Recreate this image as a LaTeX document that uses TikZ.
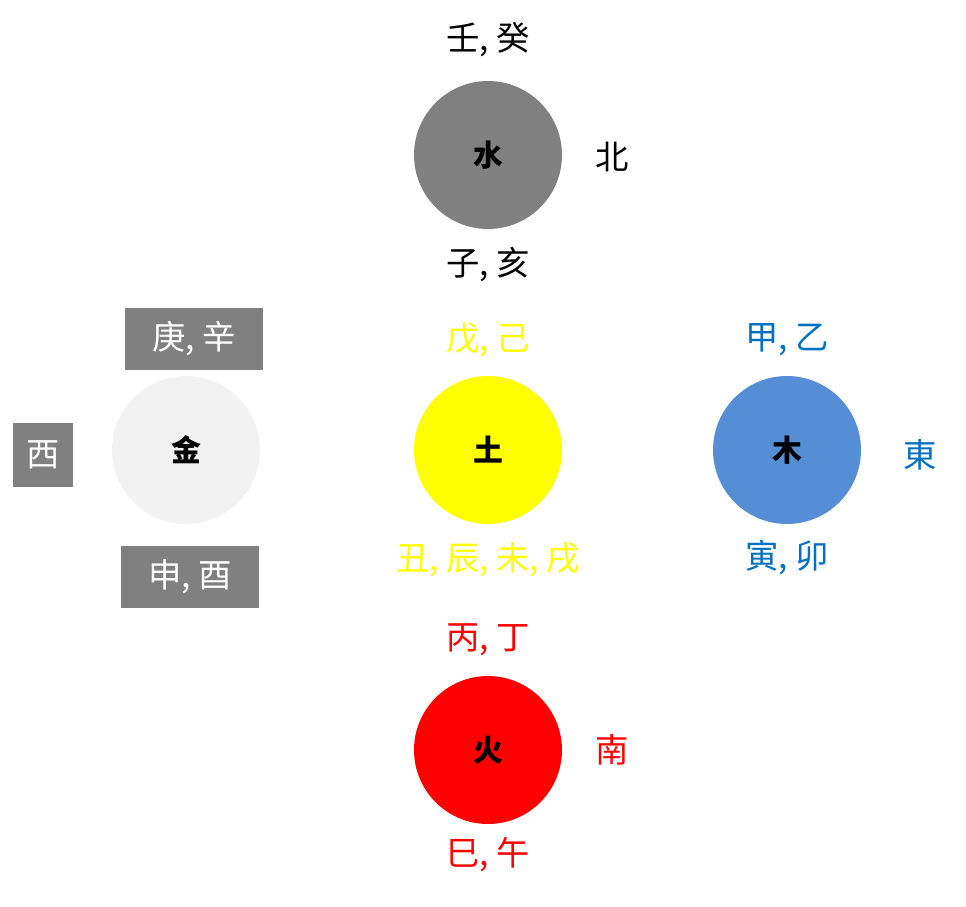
\documentclass[tikz,border=0pt]{standalone}
\usepackage{fontspec}
\setmainfont{Noto Sans CJK SC}
\definecolor{waterGray}{RGB}{128,128,128}
\definecolor{earthYellow}{RGB}{255,255,0}
\definecolor{woodBlue}{RGB}{85,142,213}
\definecolor{woodText}{RGB}{0,112,192}
\definecolor{fireRed}{RGB}{255,0,0}
\definecolor{metalGray}{RGB}{242,242,242}
\tikzset{
  element/.style={circle, minimum size=2.96cm, inner sep=0pt, font=\fontsize{17}{20}\selectfont\bfseries},
  stem/.style={font=\fontsize{19}{22}\selectfont, inner sep=0pt},
  tag/.style={stem, fill=waterGray, text=white, minimum height=1.24cm}
}
\begin{document}
\begin{tikzpicture}[x=0.02cm, y=-0.02cm]
            \useasboundingbox (0,0) rectangle (966,906);

            % Elementos
            \node[element, fill=waterGray] (water) at (488,155) {水};
            \node[element, fill=earthYellow] (earth) at (488,450) {土};
            \node[element, fill=woodBlue] (wood) at (787,450) {木};
            \node[element, fill=metalGray] (metal) at (186,450) {金};
            \node[element, fill=fireRed] (fire) at (488,750) {火};

            % Agua
            \node[stem] (waterTop) at (488,40) {壬, 癸};
            \node[stem] (waterDir) at (612,157) {北};
            \node[stem] (waterBot) at (488,265) {子, 亥};

            % Tierra
            \node[stem, text=earthYellow] (earthTop) at (488,340) {戊, 己};
            \node[stem, text=earthYellow] (earthBot) at (488,560) {丑, 辰, 未, 戌};

            % Madera
            \node[stem, text=woodText] (woodTop) at (787,340) {甲, 乙};
            \node[stem, text=woodText] (woodDir) at (920,455) {東};
            \node[stem, text=woodText] (woodBot) at (787,558) {寅, 卯};

            % Metal
            \node[tag, minimum width=2.76cm] (metalTop) at (194,339) {庚, 辛};
            \node[tag, minimum width=1.2cm, minimum height=1.28cm] (metalDir) at (43,455) {西};
            \node[tag, minimum width=2.76cm] (metalBot) at (190,577) {申, 酉};

            % Fuego
            \node[stem, text=fireRed] (fireTop) at (488,640) {丙, 丁};
            \node[stem, text=fireRed] (fireDir) at (612,750) {南};
            \node[stem, text=fireRed] (fireBot) at (488,855) {巳, 午};
\end{tikzpicture}
\end{document}
